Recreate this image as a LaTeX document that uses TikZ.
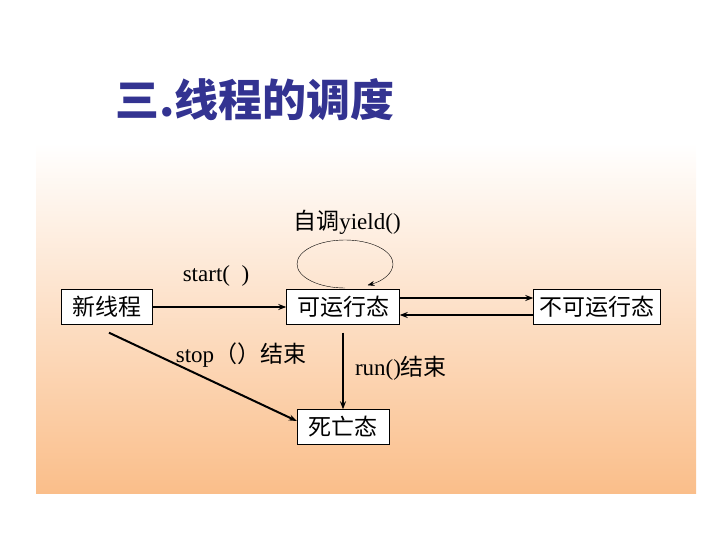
\documentclass[tikz,border=0pt]{standalone}
\usepackage{fontspec}
\usetikzlibrary{arrows.meta}
\setmainfont{Liberation Serif}
\newfontfamily\cjk{Noto Sans CJK SC}
\definecolor{peach}{RGB}{250,190,138}
\definecolor{titleblue}{RGB}{51,51,145}

\begin{document}
\begin{tikzpicture}[x=1pt, y=-1pt,
    state/.style={draw, fill=white, minimum height=35pt, inner sep=1pt,
      font=\cjk\fontsize{23}{23}\selectfont},
    lbl/.style={font=\fontsize{23}{23}\selectfont},
    arr/.style={-{Stealth[length=8pt, width=6pt]}, line width=2pt}]
  \useasboundingbox (0,0) rectangle (720,540);
  \fill[top color=white, bottom color=peach] (36,143) rectangle (696,493);
  \node[font=\cjk\bfseries\fontsize{44}{44}\selectfont, text=titleblue] (title) at (255,100) {三.线程的调度};
  % states
  \node[state, minimum width=91pt] (new) at (107,307) {新线程};
  \node[state, minimum width=113pt] (run) at (343,307) {可运行态};
  \node[state, minimum width=127pt] (block) at (597,307) {不可运行态};
  \node[state, minimum width=92pt] (dead) at (343,427) {死亡态};
  % transitions
  \draw[arr] (new.east) -- (run.west);
  \draw[arr] ([yshift=9pt]run.east) -- ([yshift=9pt]block.west);
  \draw[arr] ([yshift=-8pt]block.west) -- ([yshift=-8pt]run.east);
  \draw[arr] ([yshift=-8pt]run.south) -- (dead.north);
  \draw[arr] ([xshift=2pt, yshift=-8pt]new.south) -- ([yshift=6pt]dead.west);
  \draw[-{Stealth[length=7pt, width=5pt]}, thin] (345,288) arc[start angle=90, end angle=422, x radius=48, y radius=24];
  % labels
  \node[lbl] (yieldlbl) at (347,222) {{\cjk 自调}yield()};
  \node[lbl] (startlbl) at (216,276) {start(\ \ )};
  \node[lbl] (stoplbl) at (241,355) {stop{\cjk （）结束}};
  \node[lbl] (runlbl) at (401,368) {run(){\cjk 结束}};
\end{tikzpicture}
\end{document}
